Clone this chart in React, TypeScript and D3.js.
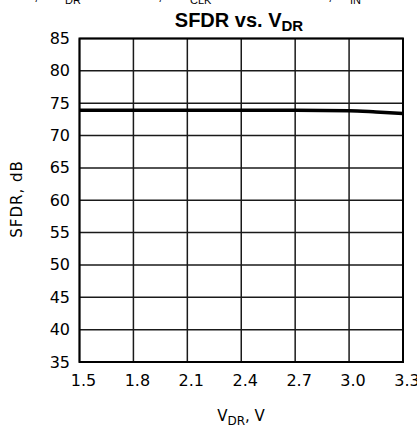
import React from "react";
import * as d3 from "d3";

const vdr = [1.5, 1.8, 2.1, 2.4, 2.7, 3.0, 3.15, 3.3];
const sfdr = [73.9, 73.9, 73.9, 73.9, 73.9, 73.85, 73.65, 73.4];
const xTicks = [1.5, 1.8, 2.1, 2.4, 2.7, 3.0, 3.3];
const yTicks = [35, 40, 45, 50, 55, 60, 65, 70, 75, 80, 85];

const W = 417;
const H = 429;
const L = 79.5, R = 403, T = 38.5, B = 362;

export default function App() {
  const x = d3.scaleLinear().domain([1.5, 3.3]).range([L, R]);
  const y = d3.scaleLinear().domain([35, 85]).range([B, T]);
  const line = d3
    .line<number>()
    .x((_, i) => x(vdr[i]))
    .y((d) => y(d))
    .curve(d3.curveMonotoneX);
  const tickFont = "DejaVu Sans, sans-serif";
  return (
    <svg
      width={W}
      height={H}
      style={{ position: "absolute", left: 0, top: 0, background: "#fff" }}
    >
      {/* cut-off conditions line */}
      <g fontFamily="Liberation Sans, Arial, sans-serif" fill="#000">
        <text x={34} y={0} fontSize={15}>, V</text>
        <text x={65} y={3.5} fontSize={11}>DR</text>
        <text x={158} y={0} fontSize={15}>, f</text>
        <text x={190} y={3.5} fontSize={11}>CLK</text>
        <text x={328} y={0} fontSize={15}>, f</text>
        <text x={350} y={3.5} fontSize={11}>IN</text>
      </g>
      <text
        x={239}
        y={27}
        textAnchor="middle"
        fontFamily="Liberation Sans, Arial, sans-serif"
        fontWeight="bold"
        fontSize={20}
      >
        SFDR vs. V<tspan fontSize={15} dy={4}>DR</tspan>
      </text>
      {/* grid */}
      <g stroke="#1a1a1a" strokeWidth={1.5}>
        {yTicks.map((t) => (
          <line key={"h" + t} x1={L} x2={R} y1={y(t)} y2={y(t)} />
        ))}
        {xTicks.map((t) => (
          <line key={"v" + t} x1={x(t)} x2={x(t)} y1={T} y2={B} />
        ))}
      </g>
      <rect
        x={L}
        y={T}
        width={R - L}
        height={B - T}
        fill="none"
        stroke="#000"
        strokeWidth={2}
      />
      <path d={line(sfdr) || ""} fill="none" stroke="#000" strokeWidth={3.5} />
      {/* y tick labels */}
      <g fontFamily={tickFont} fontSize={16} textAnchor="end" fill="#000">
        {yTicks.map((t) => (
          <text key={"yl" + t} x={70} y={y(t) + 5.5}>
            {t}
          </text>
        ))}
      </g>
      <g fontFamily={tickFont} fontSize={16} textAnchor="middle" fill="#000">
        {xTicks.map((t) => (
          <text key={"xl" + t} x={x(t) + 4} y={B + 24}>
            {t.toFixed(1)}
          </text>
        ))}
      </g>
      <text
        x={241}
        y={421}
        textAnchor="middle"
        fontFamily={tickFont}
        fontSize={15}
      >
        V<tspan fontSize={12} dy={4}>DR</tspan>
        <tspan dy={-4}>,  V</tspan>
      </text>
      <text
        transform="translate(22,199) rotate(-90)"
        textAnchor="middle"
        fontFamily={tickFont}
        fontSize={15}
        letterSpacing={1}
      >
        SFDR, dB
      </text>
    </svg>
  );
}
